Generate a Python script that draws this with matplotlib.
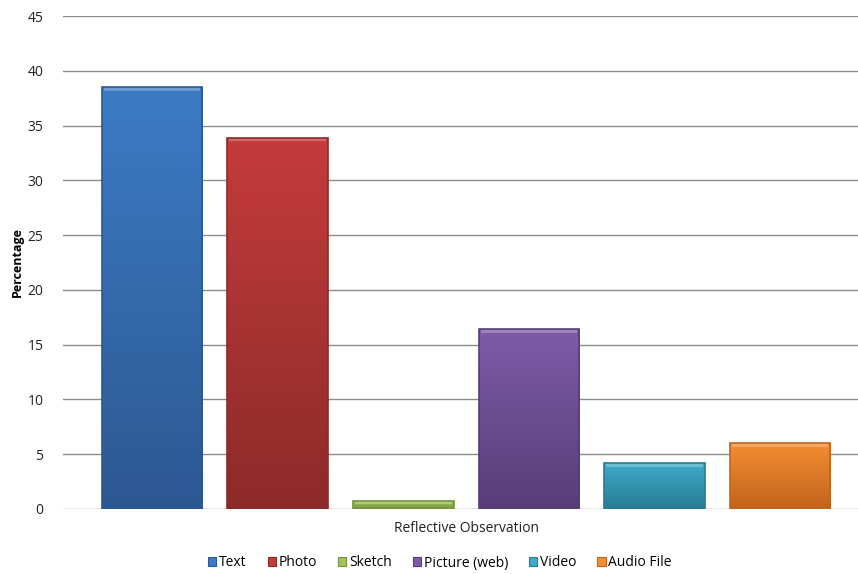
import numpy as np
import matplotlib.pyplot as plt
from matplotlib.colors import LinearSegmentedColormap
from matplotlib.patches import Patch

# Share of each media type used for reflective observation
media = ['Text', 'Photo', 'Sketch', 'Picture (web)', 'Video', 'Audio File']
percent = [38.5, 33.9, 0.7, 16.4, 4.2, 6.0]

# top / bottom shade for each bar
top_colors = ['#3d7bc6', '#c43c3b', '#a2c25e', '#7f5ba8', '#3eabc9', '#f48c32']
bottom_colors = ['#2c5891', '#8c2a2a', '#76943a', '#573d78', '#287c95', '#c2641c']

plt.rcParams['font.family'] = ['Open Sans', 'DejaVu Sans']

fig = plt.figure(figsize=(8.58, 5.74), dpi=100)
ax = fig.add_axes([63 / 858, 65 / 574, 1 - 63 / 858, 493 / 574])

x = np.arange(len(media))
width = 0.80
bars = ax.bar(x, percent, width=width, color=top_colors, edgecolor='none', zorder=2)

grad = np.linspace(0, 1, 512).reshape(-1, 1)
for b, c_top, c_bot, name in zip(bars, top_colors, bottom_colors, media):
    cmap = LinearSegmentedColormap.from_list(name, [c_bot, c_top], N=512)
    x0, y0 = b.get_x(), b.get_y()
    w, h = b.get_width(), b.get_height()
    im = ax.imshow(grad, cmap=cmap, aspect='auto', origin='lower',
                   extent=[x0, x0 + w, y0, y0 + h], zorder=3, interpolation='bilinear')
    im.set_clip_path(b)
    # bevel: light strip on top, darker rim round the bar
    cap = min(0.35, h * 0.3)
    ax.bar(x0 + w / 2, cap, width=w * 0.96, bottom=y0 + h - cap,
           color='white', alpha=0.25, edgecolor='none', zorder=4)
    ax.bar(x0 + w / 2, h, width=w, bottom=y0, color='none',
           edgecolor=c_bot, linewidth=1.2, zorder=5)

ax.set_xlim(-0.709, 5.62)
ax.set_ylim(0, 45)
ax.set_yticks(range(0, 46, 5))
ax.set_xticks([])
ax.grid(axis='y', color='#8c8c8c', linewidth=1.0, zorder=0)
for s in ax.spines.values():
    s.set_visible(False)
ax.tick_params(axis='y', length=0, pad=14, labelsize=10, labelcolor='#222222')

fig.text(17 / 858, 1 - 262 / 574, 'Percentage', rotation=90, ha='center', va='center',
         fontsize=9, fontweight='bold')
fig.text(466 / 858, 1 - 529 / 574, 'Reflective Observation', ha='center', va='center',
         fontsize=10, color='#222222')

handles = [Patch(facecolor=c, edgecolor=d, linewidth=0.8) for c, d in zip(top_colors, bottom_colors)]
fig.legend(handles, media, loc='center', bbox_to_anchor=(440 / 858, 1 - 563 / 574),
           ncol=6, frameon=False, fontsize=10, handlelength=0.6, handleheight=0.6,
           handletextpad=0.2, columnspacing=1.5)

fig.savefig('out.png', dpi=100)
